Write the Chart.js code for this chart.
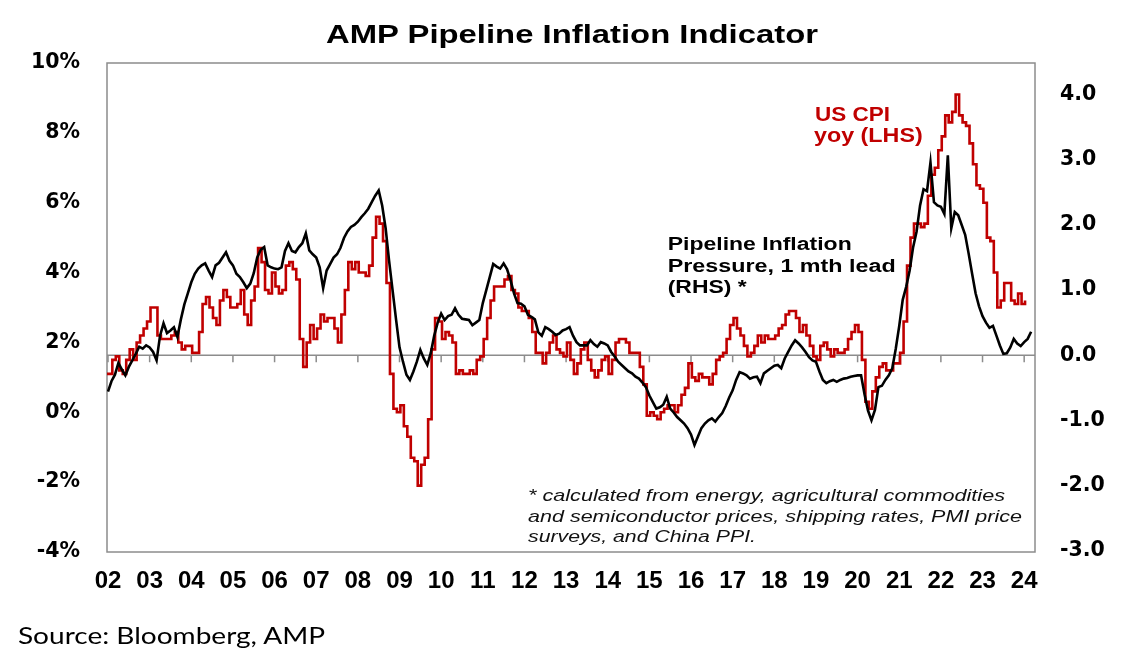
<!DOCTYPE html>
<html lang="en">
<head>
<meta charset="UTF-8">
<title>AMP Pipeline Inflation Indicator</title>
<script src="https://cdn.jsdelivr.net/npm/chart.js"></script>
<style>
  body { margin: 0; background: #fff; }
  #wrap { position: relative; width: 1129px; height: 668px; }
  #chart { position: absolute; left: 0; top: 0; }
  #labels { position: absolute; left: 0; top: 0; pointer-events: none; }
  #labels text { font-family: 'Liberation Sans', Arial, sans-serif; }
  .title { font-weight: bold; font-size: 26px; fill: #000; }
  .cpi { font-weight: bold; font-size: 19.5px; fill: #c00000; }
  .pipe { font-weight: bold; font-size: 18px; fill: #000; }
  .note { font-style: italic; font-size: 16.5px; fill: #111; }
  #labels text.source { font-family: Lato, 'Open Sans', sans-serif; font-size: 23px; fill: #000; }
</style>
</head>
<body>
<div id="wrap">
  <canvas id="chart" width="1129" height="668"></canvas>
  <svg id="labels" width="1129" height="668">
    <text class="title" x="572" y="42.5" text-anchor="middle" textLength="492" lengthAdjust="spacingAndGlyphs">AMP Pipeline Inflation Indicator</text>
    <text class="cpi" x="815" y="120.7" textLength="75" lengthAdjust="spacingAndGlyphs">US CPI</text>
    <text class="cpi" x="814" y="142" textLength="108.7" lengthAdjust="spacingAndGlyphs">yoy (LHS)</text>
    <text class="pipe" x="667.7" y="250" textLength="184" lengthAdjust="spacingAndGlyphs">Pipeline Inflation</text>
    <text class="pipe" x="667.7" y="271.5" textLength="228" lengthAdjust="spacingAndGlyphs">Pressure, 1 mth lead</text>
    <text class="pipe" x="667.7" y="292.5" textLength="79" lengthAdjust="spacingAndGlyphs">(RHS) *</text>
    <text class="note" x="528" y="500.8" textLength="477" lengthAdjust="spacingAndGlyphs">* calculated from energy, agricultural commodities</text>
    <text class="note" x="528" y="521.5" textLength="494" lengthAdjust="spacingAndGlyphs">and semiconductor prices, shipping rates, PMI price</text>
    <text class="note" x="528" y="541.5" textLength="228" lengthAdjust="spacingAndGlyphs">surveys, and China PPI.</text>
    <text class="source" x="18" y="644" textLength="307" lengthAdjust="spacingAndGlyphs">Source: Bloomberg, AMP</text>
  </svg>
</div>

<script>
// US CPI yoy %, monthly from Jan 2002 (left axis)
const cpiYoy = [
  1.1, 1.1, 1.5, 1.6, 1.2, 1.1, 1.5, 1.8, 1.5, 2.0, 2.2, 2.4,
  2.6, 3.0, 3.0, 2.2, 2.1, 2.1, 2.1, 2.2, 2.3, 2.0, 1.8, 1.9,
  1.9, 1.7, 1.7, 2.3, 3.1, 3.3, 3.0, 2.7, 2.5, 3.2, 3.5, 3.3,
  3.0, 3.0, 3.1, 3.5, 2.8, 2.5, 3.2, 3.6, 4.7, 4.3, 3.5, 3.4,
  4.0, 3.6, 3.4, 3.5, 4.2, 4.3, 4.1, 3.8, 2.1, 1.3, 2.0, 2.5,
  2.1, 2.4, 2.8, 2.6, 2.7, 2.7, 2.4, 2.0, 2.8, 3.5, 4.3, 4.1,
  4.3, 4.0, 4.0, 3.9, 4.2, 5.0, 5.6, 5.4, 4.9, 3.7, 1.1, 0.1,
  0.0, 0.2, -0.4, -0.7, -1.3, -1.4, -2.1, -1.5, -1.3, -0.2, 1.8, 2.7,
  2.6, 2.1, 2.3, 2.2, 2.0, 1.1, 1.2, 1.1, 1.1, 1.2, 1.1, 1.5,
  1.6, 2.1, 2.7, 3.2, 3.6, 3.6, 3.6, 3.8, 3.9, 3.5, 3.4, 3.0,
  2.9, 2.9, 2.7, 2.3, 1.7, 1.7, 1.4, 1.7, 2.0, 2.2, 1.8, 1.7,
  1.6, 2.0, 1.5, 1.1, 1.4, 1.8, 2.0, 1.5, 1.2, 1.0, 1.2, 1.5,
  1.6, 1.1, 1.5, 2.0, 2.1, 2.1, 2.0, 1.7, 1.7, 1.7, 1.3, 0.8,
  -0.1, 0.0, -0.1, -0.2, 0.0, 0.1, 0.2, 0.2, 0.0, 0.2, 0.5, 0.7,
  1.4, 1.0, 0.9, 1.1, 1.0, 1.0, 0.8, 1.1, 1.5, 1.6, 1.7, 2.1,
  2.5, 2.7, 2.4, 2.2, 1.9, 1.6, 1.7, 1.9, 2.2, 2.0, 2.2, 2.1,
  2.1, 2.2, 2.4, 2.5, 2.8, 2.9, 2.9, 2.7, 2.3, 2.5, 2.2, 1.9,
  1.6, 1.5, 1.9, 2.0, 1.8, 1.6, 1.8, 1.7, 1.7, 1.8, 2.1, 2.3,
  2.5, 2.3, 1.5, 0.3, 0.1, 0.6, 1.0, 1.3, 1.4, 1.2, 1.2, 1.4,
  1.4, 1.7, 2.6, 4.2, 5.0, 5.4, 5.4, 5.3, 5.4, 6.2, 6.8, 7.0,
  7.5, 7.9, 8.5, 8.3, 8.6, 9.1, 8.5, 8.3, 8.2, 7.7, 7.1, 6.5,
  6.4, 6.0, 5.0, 4.9, 4.0, 3.0, 3.2, 3.7, 3.7, 3.2, 3.1, 3.4,
  3.1, 3.2
];

// Pipeline inflation pressure, monthly from Jan 2002 (right axis)
const pipeline = [
  -0.56, -0.40, -0.30, -0.12, -0.22, -0.31, -0.18, -0.08, 0.02, 0.13, 0.10, 0.15,
  0.12, 0.05, -0.08, 0.30, 0.49, 0.34, 0.38, 0.43, 0.28, 0.55, 0.78, 0.95,
  1.12, 1.25, 1.33, 1.38, 1.41, 1.30, 1.20, 1.38, 1.42, 1.50, 1.58, 1.45,
  1.38, 1.25, 1.20, 1.12, 1.03, 1.10, 1.26, 1.50, 1.62, 1.66, 1.38, 1.35,
  1.33, 1.32, 1.35, 1.60, 1.72, 1.60, 1.58, 1.66, 1.72, 1.87, 1.61, 1.55,
  1.50, 1.35, 1.03, 1.30, 1.40, 1.50, 1.55, 1.65, 1.80, 1.90, 1.97, 2.00,
  2.05, 2.12, 2.18, 2.25, 2.35, 2.45, 2.53, 2.30, 1.95, 1.45, 1.00, 0.55,
  0.12, -0.10, -0.30, -0.38, -0.25, -0.10, 0.08, -0.05, -0.15, 0.03, 0.30, 0.50,
  0.64, 0.54, 0.60, 0.62, 0.72, 0.62, 0.56, 0.55, 0.54, 0.46, 0.50, 0.54,
  0.80, 1.00, 1.20, 1.40, 1.36, 1.33, 1.41, 1.32, 1.15, 0.95, 0.80, 0.79,
  0.75, 0.62, 0.59, 0.55, 0.35, 0.30, 0.43, 0.40, 0.36, 0.31, 0.33, 0.38,
  0.40, 0.43, 0.30, 0.20, 0.15, 0.15, 0.15, 0.23, 0.17, 0.13, 0.20, 0.18,
  0.15, 0.05, -0.02, -0.10, -0.15, -0.20, -0.25, -0.28, -0.33, -0.36, -0.42, -0.49,
  -0.62, -0.72, -0.82, -0.80, -0.76, -0.64, -0.82, -0.88, -0.95, -1.00, -1.05, -1.12,
  -1.22, -1.38, -1.25, -1.12, -1.05, -1.00, -0.97, -1.02, -0.95, -0.89, -0.78, -0.65,
  -0.54, -0.38, -0.26, -0.28, -0.31, -0.36, -0.34, -0.33, -0.43, -0.28, -0.24, -0.20,
  -0.16, -0.15, -0.20, -0.05, 0.05, 0.15, 0.23, 0.18, 0.12, 0.05, -0.03, -0.08,
  -0.10, -0.25, -0.38, -0.43, -0.40, -0.38, -0.41, -0.38, -0.36, -0.35, -0.33, -0.32,
  -0.31, -0.31, -0.60, -0.85, -1.00, -0.84, -0.49, -0.47, -0.38, -0.31, -0.20, 0.10,
  0.45, 0.85, 1.05, 1.30, 1.66, 1.90, 2.30, 2.55, 2.52, 2.96, 2.35, 2.30,
  2.28, 2.17, 3.07, 1.95, 2.20, 2.15, 2.00, 1.85, 1.56, 1.25, 0.95, 0.75,
  0.60, 0.50, 0.42, 0.45, 0.30, 0.15, 0.02, 0.03, 0.12, 0.25, 0.18, 0.14,
  0.20, 0.25, 0.36
];

const startYear = 2002;
const cpiShift = -0.75;   // months; CPI steps sit a little before the month start

const xYears = [2002, 2003, 2004, 2005, 2006, 2007, 2008, 2009, 2010, 2011, 2012, 2013,
                2014, 2015, 2016, 2017, 2018, 2019, 2020, 2021, 2022, 2023, 2024];
const xLabels = ['02', '03', '04', '05', '06', '07', '08', '09', '10', '11', '12', '13',
                 '14', '15', '16', '17', '18', '19', '20', '21', '22', '23', '24'];
const leftTicks = [-4, -2, 0, 2, 4, 6, 8, 10];
const leftLabels = ['-4%', '-2%', '0%', '2%', '4%', '6%', '8%', '10%'];
const rightTicks = [-3, -2, -1, 0, 1, 2, 3, 4];
const rightLabels = ['-3.0', '-2.0', '-1.0', '0.0', '1.0', '2.0', '3.0', '4.0'];

const tickFont = { family: "'DejaVu Sans', sans-serif", size: 20.5, weight: 'bold' };

// box round the plot, the zero line of the right axis and the year ticks on it
const framePlugin = {
  id: 'frame',
  beforeDatasetsDraw(chart) {
    const { ctx, chartArea: a, scales } = chart;
    const y0 = scales.yR.getPixelForValue(0);
    ctx.save();
    ctx.strokeStyle = '#8c8c8c';
    ctx.lineWidth = 1.5;
    ctx.strokeRect(a.left, a.top, a.right - a.left, a.bottom - a.top);
    ctx.beginPath();
    ctx.moveTo(a.left, y0);
    ctx.lineTo(a.right, y0);
    xYears.forEach(v => {
      const px = scales.x.getPixelForValue(v);
      ctx.moveTo(px, y0);
      ctx.lineTo(px, y0 + 7);
    });
    ctx.stroke();
    ctx.restore();
  }
};

new Chart(document.getElementById('chart'), {
  type: 'line',
  data: {
    datasets: [
      {
        label: 'Pipeline Inflation Pressure, 1 mth lead (RHS)',
        data: pipeline.map((v, i) => ({ x: startYear + i / 12, y: v })),
        yAxisID: 'yR',
        borderColor: '#000',
        borderWidth: 2.6,
        pointRadius: 0,
        tension: 0
      },
      {
        label: 'US CPI yoy (LHS)',
        data: cpiYoy.map((v, i) => ({ x: startYear + (i + cpiShift) / 12, y: v })),
        yAxisID: 'y',
        borderColor: '#c00000',
        borderWidth: 2.6,
        pointRadius: 0,
        stepped: true
      }
    ]
  },
  options: {
    responsive: false,
    animation: false,
    layout: { padding: { top: 63, left: 0, right: 0, bottom: 0 } },
    plugins: { legend: { display: false }, tooltip: { enabled: false } },
    scales: {
      x: {
        type: 'linear',
        min: 2001.976,
        max: 2024.26,
        grid: { display: false, drawTicks: false },
        border: { display: false },
        afterBuildTicks: s => { s.ticks = xYears.map(v => ({ value: v })); },
        afterFit: s => { s.height = 116; },
        ticks: {
          autoSkip: false,
          maxRotation: 0,
          padding: 15,
          color: '#000',
          font: { family: "'Liberation Sans', Arial, sans-serif", size: 24, weight: 'bold' },
          callback: v => xLabels[xYears.indexOf(v)]
        }
      },
      y: {
        position: 'left',
        min: -4,
        max: 10,
        grid: { display: false, drawTicks: false },
        border: { display: false },
        afterBuildTicks: s => { s.ticks = leftTicks.map(v => ({ value: v })); },
        afterFit: s => { s.width = 107; },
        ticks: {
          padding: 27,
          color: '#000',
          font: tickFont,
          callback: v => leftLabels[leftTicks.indexOf(v)]
        }
      },
      yR: {
        position: 'right',
        min: -3.023,
        max: 4.488,
        grid: { display: false, drawTicks: false },
        border: { display: false },
        afterBuildTicks: s => { s.ticks = rightTicks.map(v => ({ value: v })); },
        afterFit: s => { s.width = 94; },
        ticks: {
          padding: 25,
          color: '#000',
          font: tickFont,
          callback: v => rightLabels[rightTicks.indexOf(v)]
        }
      }
    }
  },
  plugins: [framePlugin]
});
</script>
</body>
</html>
